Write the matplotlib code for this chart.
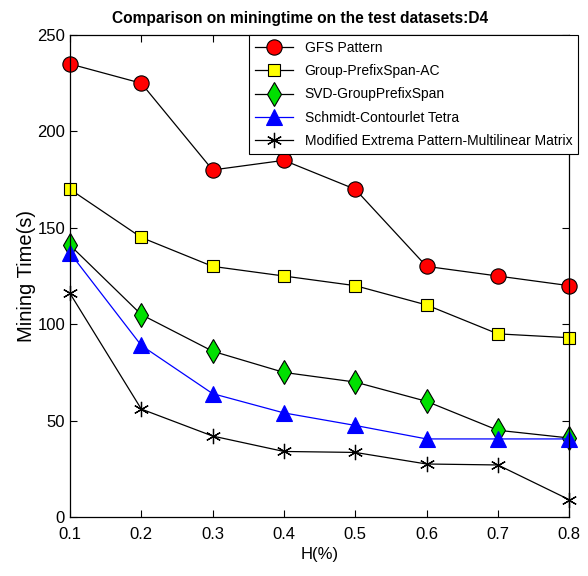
import matplotlib
matplotlib.use("Agg")
import matplotlib.pyplot as plt

plt.rcParams['font.family'] = ['Liberation Sans', 'DejaVu Sans']

h = [0.1, 0.2, 0.3, 0.4, 0.5, 0.6, 0.7, 0.8]
gfs = [235, 225, 180, 185, 170, 130, 125, 120]
gps_ac = [170, 145, 130, 125, 120, 110, 95, 93]
svd_gps = [141, 105, 86, 75, 70, 60, 45, 41]
schmidt = [137, 89, 64, 54, 47.5, 40.5, 40.5, 40.5]
mep = [116, 56, 42, 34, 33.5, 27.5, 27, 9]

fig = plt.figure(figsize=(5.88, 5.76), dpi=100)
ax = fig.add_axes([0.119, 0.1024, 0.849, 0.8368])

ax.plot(h, gfs, color="black", lw=0.9, marker="o", ms=11, mfc="red", mec="black", mew=0.8,
        label="GFS Pattern", clip_on=False)
ax.plot(h, gps_ac, color="black", lw=0.9, marker="s", ms=9, mfc="yellow", mec="black", mew=0.8,
        label="Group-PrefixSpan-AC", clip_on=False)
ax.plot(h, svd_gps, color="black", lw=0.9, marker="d", ms=12, mfc="#00e000", mec="black", mew=0.8,
        label="SVD-GroupPrefixSpan", clip_on=False)
ax.plot(h, schmidt, color="blue", lw=0.9, marker="^", ms=12, mfc="blue", mec="blue", mew=0.8,
        label="Schmidt-Contourlet Tetra", clip_on=False)
ax.plot(h, mep, color="black", lw=0.9, marker=(6, 2, 0), ms=11, mec="black", mew=0.9,
        label="Modified Extrema Pattern-Multilinear Matrix", clip_on=False)

ax.set_xlim(0.1, 0.8)
ax.set_ylim(0, 250)
ax.set_xticks(h)
ax.set_xticklabels(["0.1", "0.2", "0.3", "0.4", "0.5", "0.6", "0.7", "0.8"])
ax.set_yticks([0, 50, 100, 150, 200, 250])
ax.tick_params(direction="in", top=True, right=True, labelsize=12, length=5, width=0.8)
ax.tick_params(axis="x", pad=7)
for s in ax.spines.values():
    s.set_linewidth(0.9)

ax.set_xlabel("H(%)", fontsize=12)
ax.set_ylabel("Mining Time(s)", fontsize=14.5, labelpad=1)
fig.text(300 / 588, 1 - 19 / 576, "Comparison on miningtime on the test datasets:D4",
         ha="center", va="center", fontsize=11.2, fontweight="bold")

leg = ax.legend(loc="upper left", bbox_to_anchor=(249 / 588, 1 - 35 / 576),
                bbox_transform=fig.transFigure, fontsize=10, fancybox=False,
                edgecolor="black", framealpha=1, borderaxespad=0, borderpad=0.4,
                handlelength=2.8, labelspacing=0.68)
leg.get_frame().set_linewidth(0.8)

plt.savefig("out.png", dpi=100)
